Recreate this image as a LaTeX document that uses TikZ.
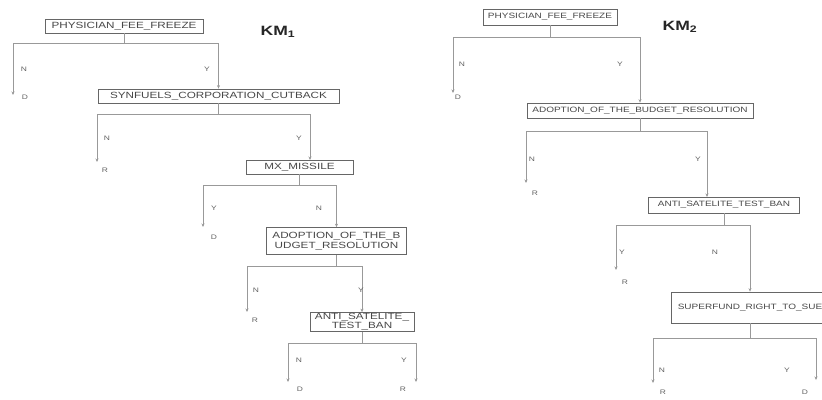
\documentclass[tikz,border=0pt]{standalone}
\usepackage{fontspec}
\setmainfont{Liberation Sans}
\newfontfamily\kmfont[FakeStretch=1.3]{Liberation Sans}
\usetikzlibrary{arrows.meta}
\begin{document}
\begin{tikzpicture}[x=1pt,y=-1pt,
  box/.style={draw=black!60, line width=0.7pt, inner sep=0pt, align=center, text=black!72},
  boxA/.style={box, font=\kmfont\fontsize{9}{9.5}\selectfont},
  boxB/.style={box, font=\kmfont\fontsize{7.7}{8.5}\selectfont},
  lbl/.style={font=\kmfont\fontsize{6.5}{7}\selectfont, text=black!62, inner sep=0pt},
  link/.style={draw=black!40, line width=0.5pt},
  arr/.style={link, -{Stealth[length=3.5pt,width=3pt]}},
  title/.style={font=\kmfont\bfseries\fontsize{13.5}{14}\selectfont, text=black!85, inner sep=0pt}
]
\useasboundingbox (0,0) rectangle (822,399);
\clip (0,0) rectangle (822,399);

% ---------------- KM1 ----------------
\node[title] (t1) at (278,32) {KM\textsubscript{1}};
\node[boxA, minimum width=158, minimum height=14] (p1) at (124,26) {PHYSICIAN\_FEE\_FREEZE};
\node[boxA, minimum width=241, minimum height=14] (s1) at (218.5,96) {SYNFUELS\_CORPORATION\_CUTBACK};
\node[boxA, minimum width=107, minimum height=14] (m1) at (299.5,167) {MX\_MISSILE};
\node[boxA, minimum width=140, minimum height=27] (a1) at (336.5,241) {ADOPTION\_OF\_THE\_B\\UDGET\_RESOLUTION};
\node[boxA, minimum width=104, minimum height=19, font=\kmfont\fontsize{9}{8.8}\selectfont] (x1) at (362,322) {ANTI\_SATELITE\_\\TEST\_BAN};

% split 1
\coordinate (j1) at (124,43);
\coordinate (e1) at (13,95);
\draw[link] (p1.south) -- (j1);
\draw[arr] (j1) -| (e1);
\draw[arr] (j1) -| (s1.north);
\node[lbl] (n1) at (24,69) {N};
\node[lbl] (y1) at (207,69) {Y};
\node[lbl] (d1) at (25,97) {D};

% split 2
\coordinate (j2) at (218.5,114);
\coordinate (e2) at (97,162);
\coordinate (m1in) at (310,160);
\draw[link] (s1.south) -- (j2);
\draw[arr] (j2) -| (e2);
\draw[arr] (j2) -| (m1in);
\node[lbl] (n2) at (107,138) {N};
\node[lbl] (y2) at (299,138) {Y};
\node[lbl] (r2) at (105,170) {R};

% split 3
\coordinate (j3) at (299.5,185);
\coordinate (e3) at (203,227);
\draw[link] (m1.south) -- (j3);
\draw[arr] (j3) -| (e3);
\draw[arr] (j3) -| (a1.north);
\node[lbl] (y3) at (214,208) {Y};
\node[lbl] (d3) at (214,237) {D};
\node[lbl] (n3) at (319,208) {N};

% split 4
\coordinate (j4) at (336.5,266);
\coordinate (e4) at (247,312);
\draw[link] (a1.south) -- (j4);
\draw[arr] (j4) -| (e4);
\draw[arr] (j4) -| (x1.north);
\node[lbl] (n4) at (256,290) {N};
\node[lbl] (r4) at (255,320) {R};
\node[lbl] (y4) at (361,290) {Y};

% split 5
\coordinate (j5) at (362,343);
\coordinate (e5) at (288,382);
\coordinate (e6) at (416,382);
\draw[link] (x1.south) -- (j5);
\draw[arr] (j5) -| (e5);
\draw[arr] (j5) -| (e6);
\node[lbl] (n5) at (299,360) {N};
\node[lbl] (y5) at (404,360) {Y};
\node[lbl] (d5) at (300,389) {D};
\node[lbl] (r5) at (403,389) {R};

% ---------------- KM2 ----------------
\node[title] (t2) at (680,27) {KM\textsubscript{2}};
\node[boxB, minimum width=134, minimum height=16] (p2) at (550,17) {PHYSICIAN\_FEE\_FREEZE};
\node[boxB, minimum width=226, minimum height=15] (a2) at (640,110.5) {ADOPTION\_OF\_THE\_BUDGET\_RESOLUTION};
\node[boxB, minimum width=151, minimum height=16] (x2) at (724,205) {ANTI\_SATELITE\_TEST\_BAN};
\node[boxB, minimum width=158, minimum height=31] (f2) at (750,307.5) {SUPERFUND\_RIGHT\_TO\_SUE};

% split 6
\coordinate (j6) at (550,37);
\coordinate (e7) at (453,93);
\draw[link] (p2.south) -- (j6);
\draw[arr] (j6) -| (e7);
\draw[arr] (j6) -| (a2.north);
\node[lbl] (n6) at (462,64) {N};
\node[lbl] (y6) at (620,64) {Y};
\node[lbl] (d6) at (458,97) {D};

% split 7
\coordinate (j7) at (640,131);
\coordinate (e8) at (526,183);
\coordinate (x2in) at (707,197);
\draw[link] (a2.south) -- (j7);
\draw[arr] (j7) -| (e8);
\draw[arr] (j7) -| (x2in);
\node[lbl] (n7) at (532,159) {N};
\node[lbl] (y7) at (698,159) {Y};
\node[lbl] (r7) at (535,193) {R};

% split 8
\coordinate (j8) at (724,225);
\coordinate (e9) at (616,270);
\draw[link] (x2.south) -- (j8);
\draw[arr] (j8) -| (e9);
\draw[arr] (j8) -| (f2.north);
\node[lbl] (y8) at (622,252) {Y};
\node[lbl] (r8) at (625,282) {R};
\node[lbl] (n8) at (715,252) {N};

% split 9
\coordinate (j9) at (750,338);
\coordinate (e10) at (653,383);
\coordinate (e11) at (816,380);
\draw[link] (f2.south) -- (j9);
\draw[arr] (j9) -| (e10);
\draw[arr] (j9) -| (e11);
\node[lbl] (n9) at (662,370) {N};
\node[lbl] (y9) at (787,370) {Y};
\node[lbl] (r9) at (663,392) {R};
\node[lbl] (d9) at (805,392) {D};
\end{tikzpicture}
\end{document}
